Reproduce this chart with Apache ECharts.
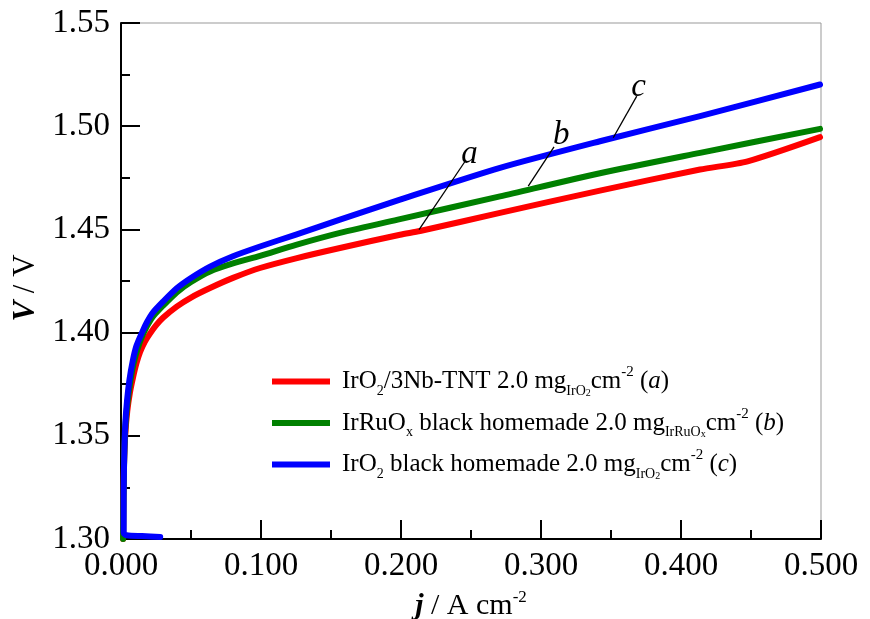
<!DOCTYPE html>
<html>
<head>
<meta charset="utf-8">
<script src="https://cdn.jsdelivr.net/npm/echarts@6/dist/echarts.min.js"></script>
<style>html,body{margin:0;padding:0;background:#fff;}#c{width:870px;height:619px;}</style>
</head>
<body>
<div id="c"></div>
<script>
// ---- data (j in A cm^-2, V in V) ----
const seriesNames = ['a', 'b', 'c'];
const seriesColors = ['#ff0000', '#008000', '#0000ff'];

const curveA = [[0.0015,1.300],[0.0017,1.320],[0.0021,1.335],[0.0030,1.350],[0.0045,1.362],[0.0064,1.371],[0.0085,1.378],[0.011,1.385],[0.0136,1.3905],[0.017,1.3955],[0.0207,1.3995],[0.025,1.4035],[0.030,1.4072],[0.0398,1.4126],[0.050,1.4170],[0.0636,1.4216],[0.080,1.4265],[0.0993,1.4313],[0.125,1.4360],[0.1564,1.4410],[0.1993,1.4474],[0.2136,1.4492],[0.2707,1.4580],[0.3421,1.4688],[0.4136,1.4790],[0.4476,1.4830],[0.4993,1.4947]];
const curveB = [[0.0015,1.300],[0.0018,1.320],[0.0023,1.340],[0.0032,1.355],[0.0048,1.367],[0.0068,1.377],[0.009,1.385],[0.0118,1.392],[0.015,1.398],[0.0185,1.403],[0.0225,1.4075],[0.030,1.4130],[0.0398,1.4195],[0.050,1.4245],[0.0636,1.4296],[0.080,1.4335],[0.0993,1.4372],[0.125,1.4425],[0.1564,1.4483],[0.1993,1.4550],[0.2707,1.4660],[0.3421,1.4772],[0.4136,1.4871],[0.4993,1.4987]];
const curveC = [[0.028,1.3010],[0.015,1.3014],[0.004,1.3018],[0.0019,1.3030],[0.0019,1.320],[0.0023,1.340],[0.0030,1.355],[0.0043,1.367],[0.006,1.377],[0.0083,1.386],[0.011,1.3935],[0.015,1.400],[0.0185,1.405],[0.0225,1.4095],[0.030,1.4150],[0.0398,1.4215],[0.050,1.4265],[0.0636,1.4320],[0.080,1.4370],[0.0993,1.4417],[0.125,1.4475],[0.1564,1.4547],[0.1993,1.4644],[0.2707,1.4798],[0.3421,1.4927],[0.4136,1.5049],[0.4993,1.5202]];

// annotation leader lines (data coords) and letter positions
const leaderA = [[0.2129,1.4499],[0.2457,1.4829]];
const leaderB = [[0.2909,1.4710],[0.3093,1.4900]];
const leaderC = [[0.3516,1.4944],[0.3684,1.5146]];
const letterPos = [[0.2493,1.4863],[0.3148,1.4951],[0.3700,1.5187]];

const xTicks = {min: 0, max: 0.5, interval: 0.1};
const yTicks = {min: 1.30, max: 1.55, interval: 0.05};

const legendTexts = {
  a: '{f|IrO}{s|2}{n|/3Nb-TNT 2.0 mg}{s|IrO}{ss|2}{n|cm}{p|-2}{n| (}{i|a}{n|)}',
  b: '{f|IrRuO}{s|x}{n| black homemade 2.0 mg}{s|IrRuO}{ss|x}{n|cm}{p|-2}{n| (}{i|b}{n|)}',
  c: '{f|IrO}{s|2}{n| black homemade 2.0 mg}{s|IrO}{ss|2}{n|cm}{p|-2}{n| (}{i|c}{n|)}'
};

const FONT = 'Liberation Serif';
const chart = echarts.init(document.getElementById('c'));

const curves = [curveA, curveB, curveC];
const leaders = [leaderA, leaderB, leaderC];

const series = [];
curves.forEach((d, i) => {
  series.push({
    name: seriesNames[i], type: 'line', data: d, showSymbol: false, symbol: 'none',
    smooth: 0.25, color: seriesColors[i],
    lineStyle: {width: 6, color: seriesColors[i], cap: 'round', join: 'round'},
    emphasis: {disabled: true}, silent: true, z: 2 + i
  });
});
leaders.forEach((d, i) => {
  series.push({
    name: 'leader' + i, type: 'line', data: d, showSymbol: false, symbol: 'none',
    lineStyle: {width: 1.3, color: '#000'}, silent: true, z: 10
  });
});
series.push({
  name: 'letters', type: 'scatter', symbolSize: 1, silent: true, z: 11,
  itemStyle: {color: 'rgba(0,0,0,0)'},
  data: letterPos.map((p, i) => ({value: p, name: seriesNames[i]})),
  label: {show: true, position: [0, 0], align: 'center', verticalAlign: 'middle',
    formatter: p => p.name, textBorderWidth: 0, opacity: 1,
    fontFamily: FONT, fontStyle: 'italic', fontSize: 33, color: '#000'}
});

const rich = {
  f: {fontFamily: FONT, fontSize: 25, color: '#000', lineHeight: 33, verticalAlign: 'middle', padding: [0,0,0,7]},
  n: {fontFamily: FONT, fontSize: 25, color: '#000', lineHeight: 33, verticalAlign: 'middle'},
  i: {fontFamily: FONT, fontSize: 25, fontStyle: 'italic', color: '#000', lineHeight: 33, verticalAlign: 'middle'},
  s: {fontFamily: FONT, fontSize: 14, color: '#000', lineHeight: 12, verticalAlign: 'bottom'},
  ss: {fontFamily: FONT, fontSize: 10, color: '#000', lineHeight: 6, verticalAlign: 'bottom'},
  p: {fontFamily: FONT, fontSize: 15, color: '#000', lineHeight: 15, verticalAlign: 'top'}
};

chart.setOption({
  animation: false,
  backgroundColor: '#fff',
  grid: {left: 121, right: 49, top: 23, bottom: 80, outerBoundsMode: 'none', containLabel: false,
    show: true, borderColor: '#999', borderWidth: 1, backgroundColor: 'transparent'},
  legend: {
    data: seriesNames, orient: 'vertical', left: 267, top: 360, itemGap: 8.5,
    itemWidth: 58, itemHeight: 6, icon: 'rect', selectedMode: false,
    formatter: n => legendTexts[n],
    textStyle: {rich: rich, fontFamily: FONT, fontSize: 25, color: '#000'}
  },
  xAxis: {
    type: 'value', min: xTicks.min, max: xTicks.max, interval: xTicks.interval,
    name: '{bi|j}{n| / A cm}{p|-2}', nameLocation: 'middle', nameGap: 50,
    nameTextStyle: {rich: {
      bi: {fontFamily: FONT, fontSize: 30, fontStyle: 'italic', fontWeight: 'bold', color: '#000', lineHeight: 34, verticalAlign: 'middle'},
      n: {fontFamily: FONT, fontSize: 30, color: '#000', lineHeight: 34, verticalAlign: 'middle'},
      p: {fontFamily: FONT, fontSize: 17, color: '#000', lineHeight: 17, verticalAlign: 'top'}
    }},
    axisLine: {show: true, onZero: false, lineStyle: {color: '#000', width: 2}},
    axisTick: {show: true, inside: true, length: 19, lineStyle: {color: '#000', width: 2}},
    minorTick: {show: true, splitNumber: 2, length: 9, lineStyle: {color: '#000', width: 2}},
    splitLine: {show: false},
    axisLabel: {fontFamily: FONT, fontSize: 33, color: '#000', margin: 11, formatter: v => v.toFixed(3)}
  },
  yAxis: {
    type: 'value', min: yTicks.min, max: yTicks.max, interval: yTicks.interval,
    name: '{bi|V}{n| / V}', nameLocation: 'middle', nameGap: 80, nameRotate: 90,
    nameTextStyle: {padding: [0, 14, 0, 0], rich: {
      bi: {fontFamily: FONT, fontSize: 31, fontStyle: 'italic', fontWeight: 'bold', color: '#000'},
      n: {fontFamily: FONT, fontSize: 31, color: '#000'}
    }},
    axisLine: {show: true, onZero: false, lineStyle: {color: '#000', width: 2}},
    axisTick: {show: true, inside: true, length: 19, lineStyle: {color: '#000', width: 2}},
    minorTick: {show: true, splitNumber: 2, length: 9, lineStyle: {color: '#000', width: 2}},
    splitLine: {show: false},
    axisLabel: {fontFamily: FONT, fontSize: 33, color: '#000', margin: 11, padding: [5, 0, 0, 0], formatter: v => v.toFixed(2)}
  },
  series: series
});
</script>
</body>
</html>
